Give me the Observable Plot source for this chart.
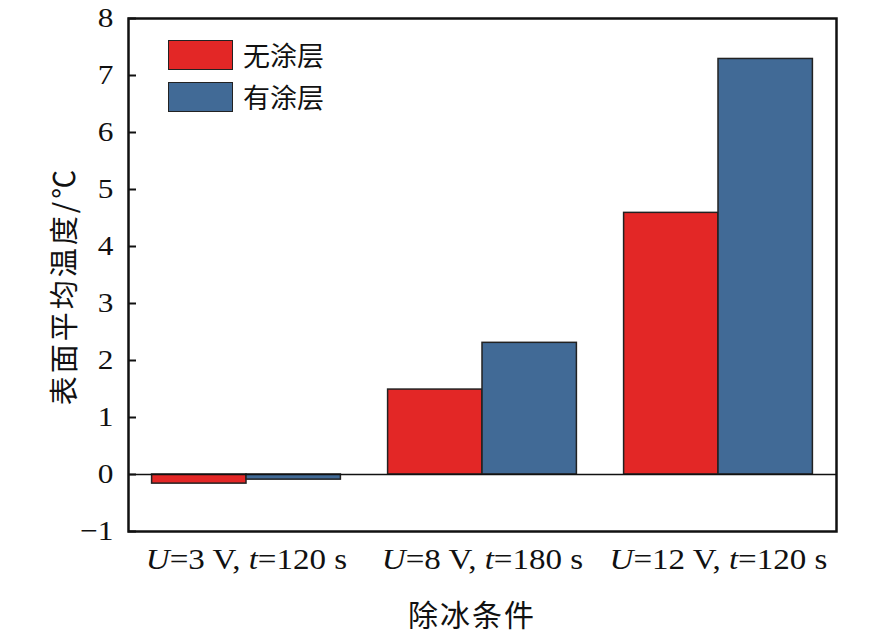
<!DOCTYPE html>
<html><head><meta charset="utf-8">
<script src="https://cdn.jsdelivr.net/npm/d3@7"></script>
<script src="https://cdn.jsdelivr.net/npm/@observablehq/plot@0.6"></script>
<style>
body{margin:0;background:#fff;}
#wrap{position:relative;width:886px;height:637px;}
.leg{position:absolute;left:168px;font-family:"Noto Sans CJK SC",sans-serif;font-size:27px;display:flex;align-items:center;color:#111;}
.sw{width:65px;height:30px;border:1.5px solid #222;box-sizing:border-box;margin-right:10px;}
</style></head>
<body><div id="wrap"></div>
<script>
const groups = ["U=3 V, t=120 s", "U=8 V, t=180 s", "U=12 V, t=120 s"];
const series = ["无涂层", "有涂层"];
const uncoated = [-0.16, 1.49, 4.59];
const coated = [-0.09, 2.31, 7.29];
const colors = ["#e32726", "#416a96"];
const yTicks = [-1, 0, 1, 2, 3, 4, 5, 6, 7, 8];

const barHalf = 0.4;
const data = [];
groups.forEach((g, i) => {
  data.push({gi: i, s: series[0], v: uncoated[i], x1: i - barHalf, x2: i});
  data.push({gi: i, s: series[1], v: coated[i], x1: i, x2: i + barHalf});
});

const serif = '"Liberation Serif", "Noto Sans CJK SC", serif';
const plot = Plot.plot({
  width: 886, height: 637,
  marginLeft: 128, marginRight: 50, marginTop: 18, marginBottom: 106,
  style: {fontFamily: serif, fontSize: "28px", color: "#111", background: "#fff"},
  x: {domain: [-0.5, 2.5]},
  y: {domain: [-1, 8]},
  color: {domain: series, range: colors},
  marks: [
    Plot.rectY(data, {x1: "x1", x2: "x2", y1: 0, y2: "v", fill: "s", stroke: "#222", strokeWidth: 1.5}),
    Plot.ruleY([0], {stroke: "#111", strokeWidth: 1.5}),
    Plot.axisY({ticks: yTicks, tickSize: -8, tickPadding: 23, fontSize: 28,
      tickFormat: d => d < 0 ? "\u2212" + Math.abs(d) : String(d),
      label: null, stroke: "#111", strokeWidth: 2}),
    Plot.axisX({ticks: [0, 1, 2], tickSize: 0, tickPadding: 17, fontSize: 29, tickFormat: i => groups[i], label: null}),
    Plot.frame({stroke: "#111", strokeWidth: 2.5})
  ]
});
document.getElementById("wrap").appendChild(plot);

// italic variable names in x tick labels; slightly wide glyphs as in the reference
d3.select(plot).selectAll("g[aria-label='x-axis tick label'] text").each(function() {
  const t = d3.select(this).text();
  const m = t.match(/^U=(.*), t=(.*)$/);
  if (!m) return;
  const el = d3.select(this).text(null);
  el.attr("transform", (el.attr("transform") || "") + " scale(1.14,1)");
  el.append("tspan").attr("font-style", "italic").text("U");
  el.append("tspan").text("=" + m[1] + ", ");
  el.append("tspan").attr("font-style", "italic").text("t");
  el.append("tspan").text("=" + m[2]);
});
d3.select(plot).selectAll("g[aria-label='y-axis tick label'] text").each(function() {
  const el = d3.select(this);
  el.attr("transform", (el.attr("transform") || "") + " scale(1.12,1)");
});

const svg = d3.select(plot);
svg.append("text").attr("transform", "translate(65,286) rotate(-90)").attr("text-anchor", "middle")
  .attr("dy", "0.35em").attr("font-family", '"Noto Sans CJK SC", sans-serif').attr("font-size", 29)
  .attr("letter-spacing", 3).attr("fill", "#111")
  .text("表面平均温度/℃");
svg.append("text").attr("x", 472).attr("y", 615).attr("text-anchor", "middle").attr("dy", "0.35em")
  .attr("font-family", '"Noto Sans CJK SC", sans-serif').attr("font-size", 30).attr("letter-spacing", 2).attr("fill", "#111")
  .text("除冰条件");

const wrap = document.getElementById("wrap");
series.forEach((s, i) => {
  const d = document.createElement("div");
  d.className = "leg";
  d.style.top = (35 + i * 42) + "px";
  d.innerHTML = `<div class="sw" style="background:${colors[i]}"></div><span>${s}</span>`;
  wrap.appendChild(d);
});
</script></body></html>
